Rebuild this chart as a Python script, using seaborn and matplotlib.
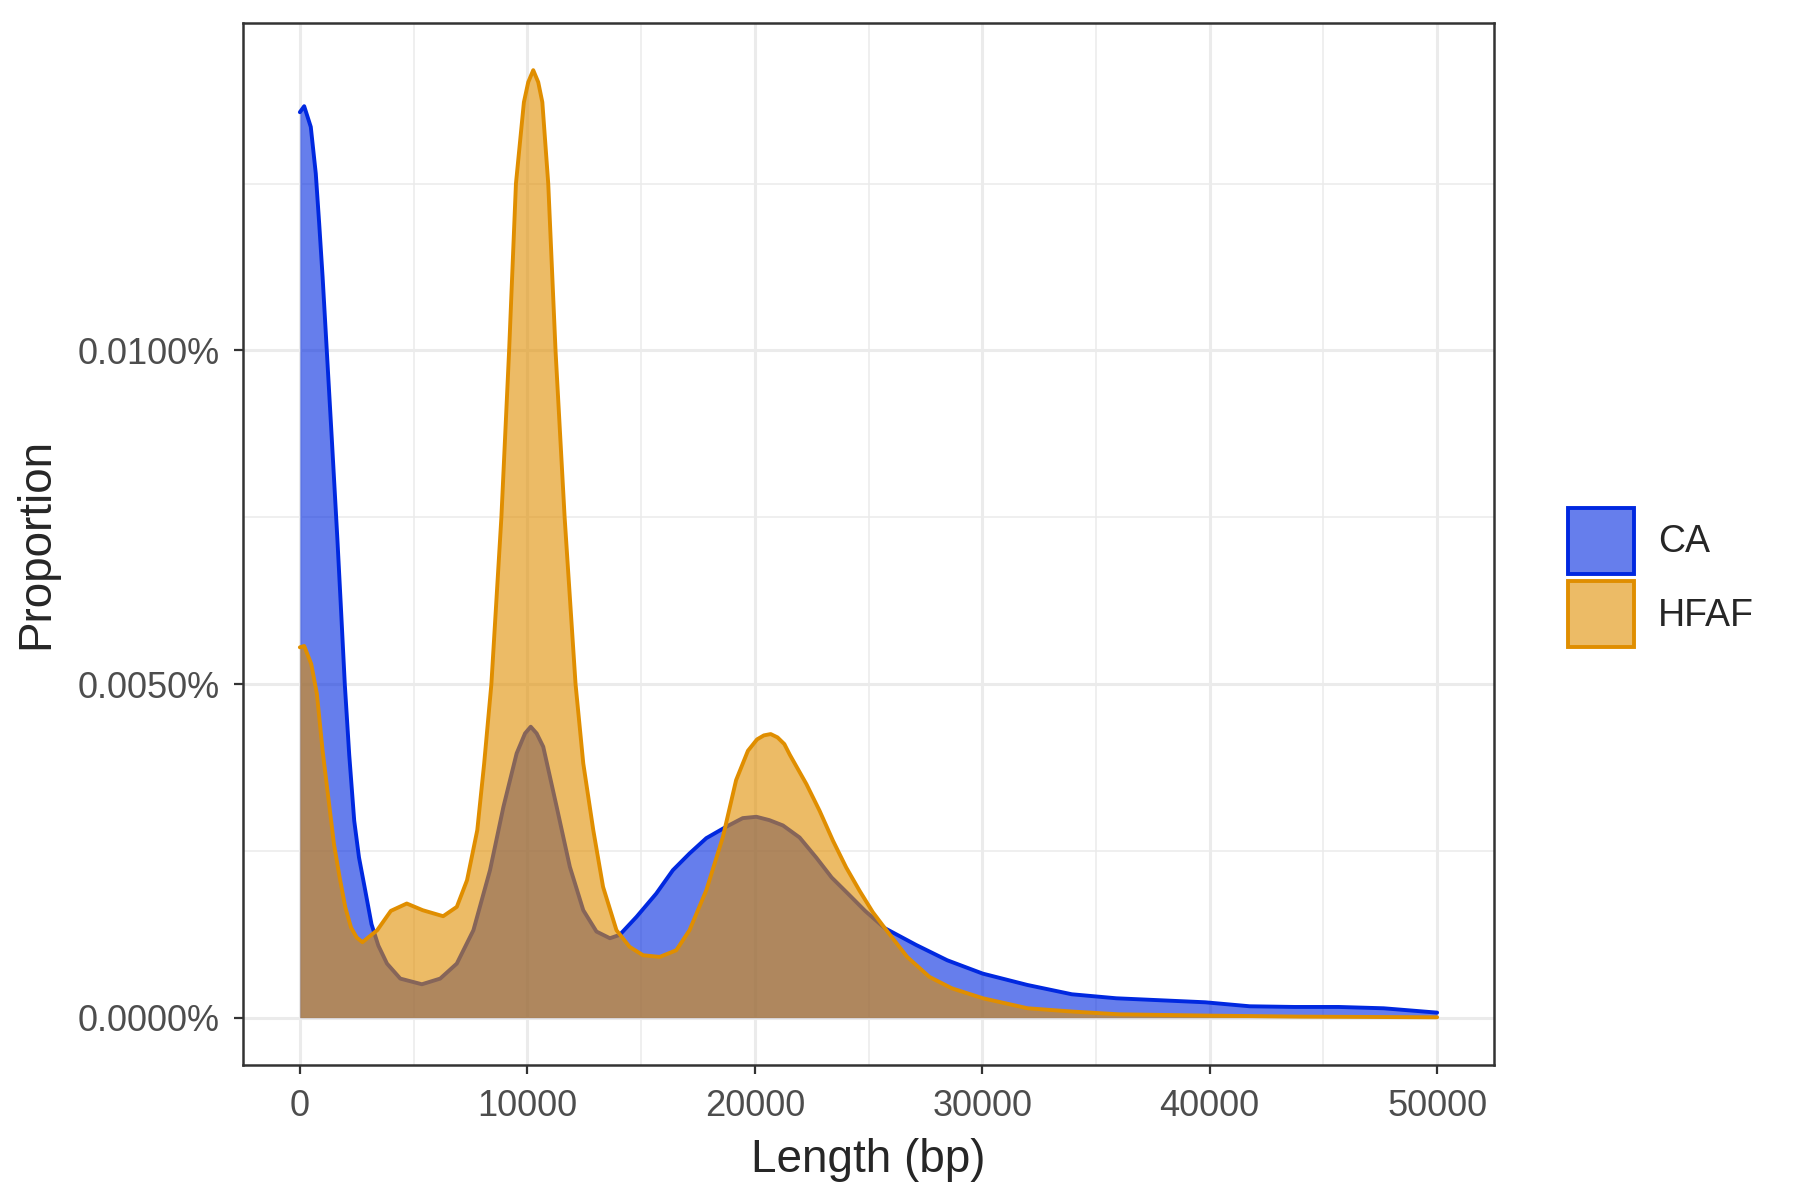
import numpy as np
import pandas as pd
import seaborn as sns
import matplotlib.pyplot as plt
from matplotlib.colors import to_rgba
from matplotlib.patches import Patch

# density curves (length in bp, density per bp)
ca_len = [0, 190, 480, 700, 850, 1000, 1150, 1400, 1650, 1800, 1975, 2170, 2390, 2600, 2850,
          3150, 3450, 3830, 4415, 5365, 6170, 6900, 7630, 8360, 8950, 9530, 9900, 10150, 10410,
          10700, 11290, 11870, 12460, 13040, 13630, 14060, 14800, 15670, 16400, 17130, 17870,
          18740, 19470, 20070, 20640, 21240, 21970, 22700, 23380, 24120, 24850, 25720, 27090,
          28460, 30020, 31980, 33940, 35890, 37850, 39800, 41760, 43720, 45670, 47650, 50000]
ca_dens = [1.357e-4, 1.366e-4, 1.335e-4, 1.265e-4, 1.19e-4, 1.11e-4, 1.02e-4, 8.7e-5, 7.17e-5,
           6.18e-5, 5.0e-5, 3.94e-5, 2.95e-5, 2.4e-5, 1.95e-5, 1.4e-5, 1.08e-5, 0.81e-5,
           0.585e-5, 0.5e-5, 0.585e-5, 0.81e-5, 1.31e-5, 2.21e-5, 3.16e-5, 3.96e-5, 4.26e-5,
           4.36e-5, 4.26e-5, 4.06e-5, 3.16e-5, 2.26e-5, 1.61e-5, 1.29e-5, 1.19e-5, 1.24e-5,
           1.51e-5, 1.86e-5, 2.21e-5, 2.46e-5, 2.69e-5, 2.86e-5, 2.99e-5, 3.01e-5, 2.96e-5,
           2.88e-5, 2.7e-5, 2.4e-5, 2.1e-5, 1.85e-5, 1.6e-5, 1.34e-5, 1.09e-5, 0.86e-5, 0.66e-5,
           0.49e-5, 0.35e-5, 0.29e-5, 0.26e-5, 0.23e-5, 0.17e-5, 0.16e-5, 0.16e-5, 0.14e-5,
           0.075e-5]

hfaf_len = [0, 190, 500, 750, 1000, 1250, 1500, 1750, 2000, 2250, 2500, 2750, 3000, 3400, 4000,
            4700, 5400, 6300, 6900, 7350, 7800, 8100, 8420, 8860, 9200, 9500, 9850, 10040,
            10260, 10480, 10660, 10920, 11240, 11640, 12120, 12460, 12900, 13330, 13920, 14500,
            15090, 15820, 16550, 17130, 17870, 18600, 19180, 19700, 20100, 20400, 20700, 21000,
            21300, 21540, 22270, 22850, 23440, 24020, 24610, 25190, 25720, 26700, 27680, 28660,
            30030, 32000, 34000, 36000, 40000, 44000, 50000]
hfaf_dens = [5.55e-5, 5.57e-5, 5.3e-5, 4.85e-5, 4.0e-5, 3.3e-5, 2.6e-5, 2.1e-5, 1.65e-5, 1.35e-5,
             1.2e-5, 1.13e-5, 1.2e-5, 1.31e-5, 1.6e-5, 1.71e-5, 1.61e-5, 1.52e-5, 1.66e-5,
             2.06e-5, 2.81e-5, 3.8e-5, 5.0e-5, 7.5e-5, 1.0e-4, 1.25e-4, 1.372e-4, 1.402e-4,
             1.42e-4, 1.402e-4, 1.372e-4, 1.25e-4, 1.0e-4, 7.5e-5, 5.0e-5, 3.81e-5, 2.81e-5,
             1.96e-5, 1.31e-5, 1.06e-5, 0.935e-5, 0.91e-5, 1.01e-5, 1.31e-5, 1.91e-5, 2.71e-5,
             3.56e-5, 4.0e-5, 4.17e-5, 4.23e-5, 4.25e-5, 4.2e-5, 4.1e-5, 3.94e-5, 3.5e-5, 3.1e-5,
             2.65e-5, 2.25e-5, 1.9e-5, 1.58e-5, 1.34e-5, 0.91e-5, 0.61e-5, 0.44e-5, 0.29e-5,
             0.14e-5, 0.09e-5, 0.05e-5, 0.03e-5, 0.015e-5, 0.005e-5]

groups = ['CA', 'HFAF']
colors = {'CA': '#0028E0', 'HFAF': '#E08E00'}

x_ticks = [0, 10000, 20000, 30000, 40000, 50000]
x_ticklabels = ['0', '10000', '20000', '30000', '40000', '50000']
y_ticks = [0, 5e-5, 1e-4]
y_ticklabels = ['0.0000%', '0.0050%', '0.0100%']

df = pd.concat([
    pd.DataFrame({'length': ca_len, 'density': ca_dens, 'group': 'CA'}),
    pd.DataFrame({'length': hfaf_len, 'density': hfaf_dens, 'group': 'HFAF'}),
])

sns.set_style('white')
plt.rcParams['font.family'] = ['Liberation Sans', 'DejaVu Sans']

fig, ax = plt.subplots(figsize=(9, 6), dpi=200)
fig.subplots_adjust(left=0.135, right=0.83, top=0.981, bottom=0.1125)

# grid like theme_bw
for v in [5000, 15000, 25000, 35000, 45000]:
    ax.axvline(v, color='#EBEBEB', lw=0.55, zorder=0)
for v in x_ticks:
    ax.axvline(v, color='#EBEBEB', lw=1.1, zorder=0)
for v in [2.5e-5, 7.5e-5, 1.25e-4]:
    ax.axhline(v, color='#EBEBEB', lw=0.55, zorder=0)
for v in y_ticks:
    ax.axhline(v, color='#EBEBEB', lw=1.1, zorder=0)

# CA first, HFAF on top
z = 1
for g in groups:
    sub = df[df['group'] == g]
    ax.fill_between(sub['length'], 0, sub['density'], color=colors[g], alpha=0.6, lw=0, zorder=z)
    sns.lineplot(data=sub, x='length', y='density', color=colors[g], lw=1.4, ax=ax,
                 legend=False, zorder=z + 1)
    z += 2

ax.set_xlim(-2500, 52500)
ax.set_ylim(-0.71e-5, 1.491e-4)
ax.set_xticks(x_ticks)
ax.set_xticklabels(x_ticklabels)
ax.set_yticks(y_ticks)
ax.set_yticklabels(y_ticklabels)
ax.tick_params(axis='both', labelsize=13, labelcolor='#4D4D4D', color='#333333',
               length=3.3, width=0.8, direction='out', bottom=True, left=True)
ax.tick_params(axis='x', pad=5.5)
ax.tick_params(axis='y', pad=5)
ax.set_xlabel('Length (bp)', fontsize=16.5, labelpad=5)
ax.set_ylabel('Proportion', fontsize=16.5, labelpad=7)
for s in ax.spines.values():
    s.set_color('#333333')
    s.set_linewidth(0.9)

handles = [Patch(facecolor=to_rgba(colors[g], 0.6), edgecolor=colors[g], lw=1.4) for g in groups]
leg = ax.legend(handles, groups, loc='center left', bbox_to_anchor=(1.032, 0.468), frameon=False,
                fontsize=13.5, handlelength=1.76, handleheight=2.33, labelspacing=0.2,
                handletextpad=0.65)

plt.savefig('out.png', dpi=200)
